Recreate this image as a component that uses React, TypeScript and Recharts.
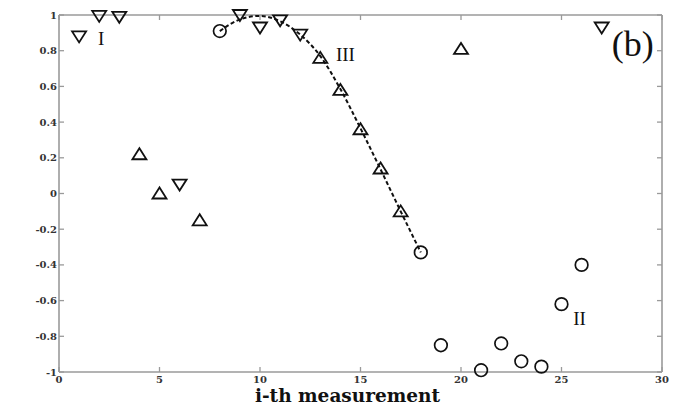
import React from "react";
import {
  ScatterChart,
  Scatter,
  XAxis,
  YAxis,
  ReferenceDot,
  ReferenceLine,
} from "recharts";

// marker groups
const downTriangles = [
  { x: 1, y: 0.88 },
  { x: 2, y: 0.995 },
  { x: 3, y: 0.99 },
  { x: 6, y: 0.05 },
  { x: 9, y: 1.0 },
  { x: 10, y: 0.93 },
  { x: 11, y: 0.97 },
  { x: 12, y: 0.89 },
  { x: 27, y: 0.93 },
];

const upTriangles = [
  { x: 4, y: 0.22 },
  { x: 5, y: 0.0 },
  { x: 7, y: -0.15 },
  { x: 13, y: 0.76 },
  { x: 14, y: 0.58 },
  { x: 15, y: 0.36 },
  { x: 16, y: 0.14 },
  { x: 17, y: -0.1 },
  { x: 20, y: 0.81 },
];

const circles = [
  { x: 8, y: 0.91 },
  { x: 18, y: -0.33 },
  { x: 19, y: -0.85 },
  { x: 21, y: -0.99 },
  { x: 22, y: -0.84 },
  { x: 23, y: -0.94 },
  { x: 24, y: -0.97 },
  { x: 25, y: -0.62 },
  { x: 26, y: -0.4 },
];

// dashed fit curve (III)
const fitCurve = [
  { x: 8, y: 0.91 },
  { x: 9, y: 0.975 },
  { x: 10, y: 0.995 },
  { x: 11, y: 0.965 },
  { x: 12, y: 0.89 },
  { x: 13, y: 0.77 },
  { x: 14, y: 0.585 },
  { x: 15, y: 0.365 },
  { x: 16, y: 0.135 },
  { x: 17, y: -0.1 },
  { x: 18, y: -0.33 },
];

const xTicks = [0, 5, 10, 15, 20, 25, 30];
const yTicks = [-1, -0.8, -0.6, -0.4, -0.2, 0, 0.2, 0.4, 0.6, 0.8, 1];

const annotations = [
  { x: 2.1, y: 0.87, text: "I", size: 19 },
  { x: 14.25, y: 0.78, text: "III", size: 19 },
  { x: 25.9, y: -0.7, text: "II", size: 19 },
  { x: 28.55, y: 0.84, text: "(b)", size: 36 },
];

const X_DOMAIN: [number, number] = [0, 30];
const Y_DOMAIN: [number, number] = [-1, 1];
// tick length ~5px expressed in data units (603px wide, 357px tall plot)
const TICK_DX = ((X_DOMAIN[1] - X_DOMAIN[0]) / 603) * 5;
const TICK_DY = ((Y_DOMAIN[1] - Y_DOMAIN[0]) / 357) * 5;

const AXIS = "#9a9a9a";
const INK = "#111";
const SERIF = "'DejaVu Serif', 'Liberation Serif', serif";

const DownTri = (p: any) => {
  const { cx, cy } = p;
  if (cx == null || cy == null) return null;
  return (
    <polygon
      points={`${cx - 7},${cy - 5} ${cx + 7},${cy - 5} ${cx},${cy + 6}`}
      fill="none"
      stroke={INK}
      strokeWidth={1.8}
    />
  );
};

const UpTri = (p: any) => {
  const { cx, cy } = p;
  if (cx == null || cy == null) return null;
  return (
    <polygon
      points={`${cx - 7},${cy + 5} ${cx + 7},${cy + 5} ${cx},${cy - 6}`}
      fill="none"
      stroke={INK}
      strokeWidth={1.8}
    />
  );
};

const Ring = (p: any) => {
  const { cx, cy } = p;
  if (cx == null || cy == null) return null;
  return <circle cx={cx} cy={cy} r={6.3} fill="none" stroke={INK} strokeWidth={1.7} />;
};

const tickText = { fontFamily: SERIF, fontSize: 10, fontWeight: 700, fill: "#333" };

const BottomTick = ({ x, y, payload }: any) => (
  <text x={x} y={y + 11} textAnchor="middle" style={tickText}>
    {payload.value}
  </text>
);

const LeftTick = ({ x, y, payload }: any) => (
  <text x={x - 2} y={y + 3.5} textAnchor="end" style={tickText}>
    {payload.value}
  </text>
);

const ids = { xAxisId: "b", yAxisId: "l", ifOverflow: "visible" as const };
const frame = { ...ids, stroke: AXIS, strokeWidth: 1.6 };
const tickMark = { ...ids, stroke: AXIS, strokeWidth: 1.3 };

export default function App() {
  return (
    <div style={{ position: "absolute", left: 0, top: 0, background: "#fff" }}>
      <ScatterChart width={683} height={405} margin={{ top: 15, right: 21, bottom: 0, left: 0 }}>
        <XAxis
          xAxisId="b"
          dataKey="x"
          type="number"
          domain={X_DOMAIN}
          ticks={xTicks}
          height={33}
          axisLine={false}
          tickLine={false}
          tickSize={0}
          tickMargin={0}
          tick={BottomTick}
          label={{
            value: "i-th measurement",
            position: "insideBottom",
            offset: 3,
            dx: -13,
            style: { fontFamily: SERIF, fontSize: 18.5, fontWeight: 700, fill: INK },
          }}
        />
        <YAxis
          yAxisId="l"
          dataKey="y"
          type="number"
          domain={Y_DOMAIN}
          ticks={yTicks}
          interval={0}
          width={59}
          axisLine={false}
          tickLine={false}
          tickSize={0}
          tickMargin={0}
          tick={LeftTick}
        />
        <ReferenceLine x={X_DOMAIN[0]} {...frame} />
        <ReferenceLine x={X_DOMAIN[1]} {...frame} />
        <ReferenceLine y={Y_DOMAIN[0]} {...frame} />
        <ReferenceLine y={Y_DOMAIN[1]} {...frame} />
        {xTicks.flatMap((t) => [
          <ReferenceLine
            key={`xb${t}`}
            {...tickMark}
            segment={[{ x: t, y: Y_DOMAIN[0] }, { x: t, y: Y_DOMAIN[0] + TICK_DY }]}
          />,
          <ReferenceLine
            key={`xt${t}`}
            {...tickMark}
            segment={[{ x: t, y: Y_DOMAIN[1] }, { x: t, y: Y_DOMAIN[1] - TICK_DY }]}
          />,
        ])}
        {yTicks.flatMap((t) => [
          <ReferenceLine
            key={`yl${t}`}
            {...tickMark}
            segment={[{ x: X_DOMAIN[0], y: t }, { x: X_DOMAIN[0] + TICK_DX, y: t }]}
          />,
          <ReferenceLine
            key={`yr${t}`}
            {...tickMark}
            segment={[{ x: X_DOMAIN[1], y: t }, { x: X_DOMAIN[1] - TICK_DX, y: t }]}
          />,
        ])}
        <Scatter
          xAxisId="b"
          yAxisId="l"
          data={fitCurve}
          line={{ stroke: INK, strokeWidth: 2, strokeDasharray: "4 2.5" }}
          lineType="joint"
          lineJointType="monotoneX"
          shape={() => null}
          isAnimationActive={false}
        />
        <Scatter xAxisId="b" yAxisId="l" data={downTriangles} shape={DownTri} isAnimationActive={false} />
        <Scatter xAxisId="b" yAxisId="l" data={upTriangles} shape={UpTri} isAnimationActive={false} />
        <Scatter xAxisId="b" yAxisId="l" data={circles} shape={Ring} isAnimationActive={false} />
        {annotations.map((a) => (
          <ReferenceDot
            key={a.text}
            xAxisId="b"
            yAxisId="l"
            x={a.x}
            y={a.y}
            r={0}
            stroke="none"
            fill="none"
            label={{
              value: a.text,
              position: "center",
              style: { fontFamily: "'Liberation Serif', serif", fontSize: a.size, fill: INK },
            }}
          />
        ))}
      </ScatterChart>
    </div>
  );
}
